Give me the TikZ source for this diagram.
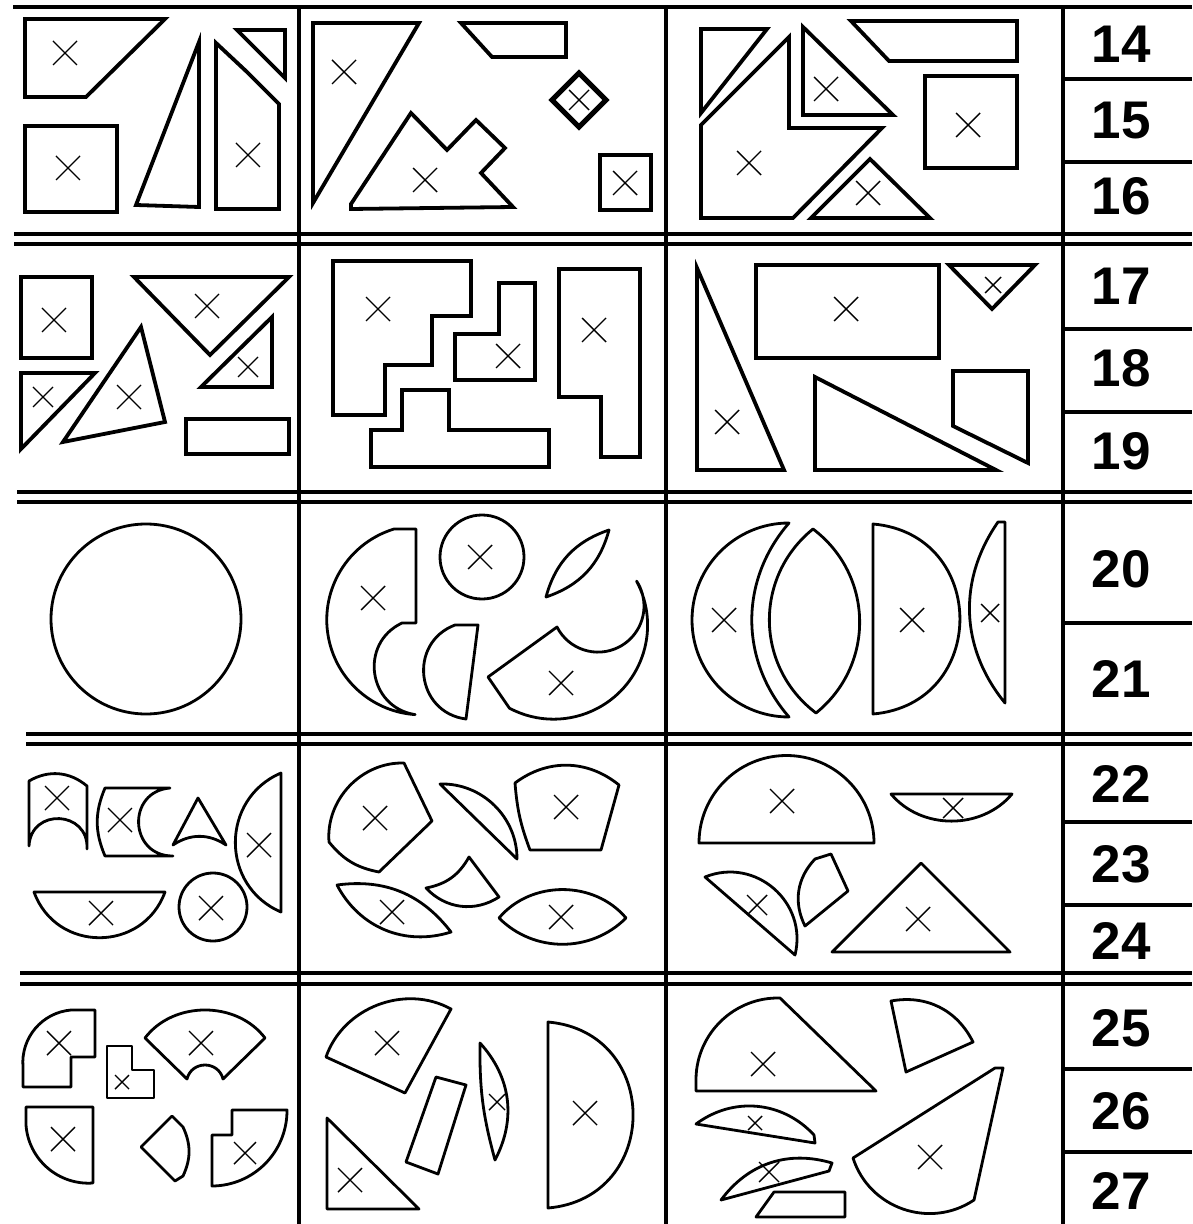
\documentclass[tikz,border=0pt]{standalone}
\usepackage{fontspec}
\setmainfont{Liberation Sans}
\tikzset{
  frame/.style={line width=2.2pt},
  piece/.style={line width=1.9pt, line join=miter},
  rpiece/.style={line width=1.4pt, line join=round},
  xline/.style={line width=0.7pt},
  numlabel/.style={font=\fontsize{26.5}{26.5}\selectfont\bfseries, inner sep=0pt},
  pics/xm/.style={code={\draw[xline] (-#1,-#1) -- (#1,#1) (-#1,#1) -- (#1,-#1);}}
}

\begin{document}
\begin{tikzpicture}[x=0.5pt, y=-0.5pt]
  \useasboundingbox (0,0) rectangle (1192,1224);

  % table lines
  \draw[frame] (13,7) -- (1192,7);
  \foreach \y/\xa in {234/14, 244/14, 492/17, 502/17, 734/26, 744/26, 973/20, 984/20}
    \draw[frame] (\xa,\y) -- (1192,\y);
  \foreach \x in {299,666,1063}
    \draw[frame] (\x,7) -- (\x,1224);
  \foreach \y in {79,162,329,412,623,822,905,1069,1152}
    \draw[frame] (1063,\y) -- (1192,\y);

  % task numbers
  \foreach \n/\y in {14/44, 15/121, 16/196, 17/286, 18/368, 19/451, 20/569, 21/679,
                     22/784, 23/864, 24/941, 25/1028, 26/1111, 27/1191}
    \node[numlabel] (n\n) at (1121,\y) {\n};

  % row 1
  \draw[piece] (25,19) -- (165,19) -- (86,97) -- (25,97) -- cycle;
  \draw[piece] (25,126) rectangle (117,212);
  \draw[piece] (136,205) -- (199,42) -- (199,207) -- cycle;
  \draw[piece] (216,43) -- (247,72) -- (279,104) -- (279,209) -- (216,209) -- cycle;
  \draw[piece] (237,30) -- (285,30) -- (285,78) -- cycle;

  \draw[piece] (313,23) -- (419,23) -- (313,203) -- cycle;
  \draw[piece] (461,23) -- (566,23) -- (566,57) -- (492,57) -- cycle;
  \draw[piece] (351,209) -- (351,204) -- (411,113) -- (447,150) -- (476,120) -- (505,148)
    -- (481,173) -- (513,207) -- cycle;
  \draw[piece, line width=2.5pt] (579,73) -- (606,100) -- (579,127) -- (552,100) -- cycle;
  \draw[piece] (600,155) rectangle (651,210);

  \draw[piece] (701,29) -- (767,29) -- (701,113) -- cycle;
  \draw[piece] (701,218) -- (701,125) -- (789,37) -- (789,128) -- (882,128) -- (793,218) -- cycle;
  \draw[piece] (803,27) -- (893,115) -- (803,115) -- cycle;
  \draw[piece] (851,21) -- (1017,21) -- (1017,61) -- (889,61) -- cycle;
  \draw[piece] (925,76) rectangle (1017,168);
  \draw[piece] (811,218) -- (870,159) -- (930,218) -- cycle;

  % row 2
  \draw[piece] (21,277) rectangle (92,358);
  \draw[piece] (134,277) -- (289,277) -- (210,355) -- cycle;
  \draw[piece] (201,387) -- (272,317) -- (272,387) -- cycle;
  \draw[piece] (21,373) -- (95,373) -- (21,449) -- cycle;
  \draw[piece] (141,327) -- (165,422) -- (63,442) -- cycle;
  \draw[piece] (186,419) rectangle (289,454);

  \draw[piece] (333,261) -- (471,261) -- (471,316) -- (432,316) -- (432,365) -- (385,365)
    -- (385,415) -- (333,415) -- cycle;
  \draw[piece] (455,334) -- (499,334) -- (499,283) -- (535,283) -- (535,380) -- (455,380) -- cycle;
  \draw[piece] (371,430) -- (402,430) -- (402,390) -- (449,390) -- (449,430) -- (549,430)
    -- (549,467) -- (371,467) -- cycle;
  \draw[piece] (559,269) -- (640,269) -- (640,457) -- (601,457) -- (601,397) -- (559,397) -- cycle;

  \draw[piece] (697,268) -- (784,470) -- (697,470) -- cycle;
  \draw[piece] (756,265) rectangle (939,358);
  \draw[piece] (949,265) -- (1035,265) -- (992,309) -- cycle;
  \draw[piece] (815,377) -- (996,470) -- (815,470) -- cycle;
  \draw[piece] (953,371) -- (1028,371) -- (1028,463) -- (953,426) -- cycle;

  % row 3
  \draw[rpiece] (146,619) circle[radius=95];

  \draw[rpiece] (394,529) arc[start angle=-107, end angle=-266, radius=95]
    to[bend left=73, looseness=1.32] (402,623) -- (416,623) -- (416,529) -- cycle;
  \draw[rpiece] (482,557) circle[radius=42];
  \draw[rpiece] (546,597) to[bend left=28] (609,530) to[bend left=28] (546,597) -- cycle;
  \draw[rpiece] (455,625) -- (478,625) -- (466,719) to[bend left=76, looseness=1.37] (455,625) -- cycle;
  \draw[rpiece] (488,677) -- (557,627) arc[start angle=153, end angle=-33, radius=46]
    arc[start angle=-28, end angle=118, radius=94] -- cycle;

  \draw[rpiece] (789,523) arc[start angle=-90, end angle=-270, radius=97]
    to[bend left=41] (789,523) -- cycle;
  \draw[rpiece] (813,529) to[bend left=52, looseness=1.06] (816,713)
    to[bend left=52, looseness=1.06] (813,529) -- cycle;
  \draw[rpiece] (873,524) to[bend left=85, looseness=1.57] (873,714) -- cycle;
  \draw[rpiece] (998,522) -- (1005,522) -- (1005,703) to[bend left=37] (998,522) -- cycle;

  % row 4
  \draw[rpiece] (29,846) -- (29,781) to[bend left=35] (87,786) -- (87,849)
    to[bend right=90, looseness=1.7] (29,846) -- cycle;
  \draw[rpiece] (105,788) -- (170,788) to[bend right=88, looseness=1.65] (173,856) -- (105,856)
    to[bend left=23] (105,788) -- cycle;
  \draw[rpiece] (198,798) -- (226,845) to[bend right=34] (173,845) -- cycle;
  \draw[rpiece] (281,773) -- (281,912) to[bend left=67, looseness=1.22] (281,773) -- cycle;
  \draw[rpiece] (34,892) -- (165,892) to[bend left=70, looseness=1.27] (34,892) -- cycle;
  \draw[rpiece] (213,907) circle[radius=34];

  \draw[rpiece] (404,763) to[bend right=48] (329,842) to[bend right=20] (379,872) -- (432,821) -- cycle;
  \draw[rpiece] (440,784) to[bend left=46] (517,859) -- cycle;
  \draw[rpiece] (515,783) to[bend left=38] (619,785) -- (601,850) -- (530,850)
    to[bend left=8] (515,783) -- cycle;
  \draw[rpiece] (469,857) -- (499,897) to[bend left=40] (426,888) to[bend right=25] (469,857) -- cycle;
  \draw[rpiece] (337,885) to[bend left=30] (451,932) to[bend left=40] (337,885) -- cycle;
  \draw[rpiece] (499,918) to[bend left=50] (626,918) to[bend left=45] (499,918) -- cycle;

  \draw[rpiece] (699,843) -- (874,843) arc[start angle=0, end angle=-180, radius=87.5] -- cycle;
  \draw[rpiece] (891,794) -- (1012,794) to[bend left=50] (891,794) -- cycle;
  \draw[rpiece] (705,877) to[bend left=63, looseness=1.17] (795,955) -- cycle;
  \draw[rpiece] (805,926) to[bend left=35] (815,859) -- (831,854) -- (848,891) -- cycle;
  \draw[rpiece] (832,952) -- (921,863) -- (1010,952) -- cycle;

  % row 5
  \draw[rpiece] (23,1067) to[bend left=45] (71,1010) -- (95,1010) -- (95,1057) -- (71,1057)
    -- (71,1087) -- (23,1087) -- cycle;
  \draw[rpiece] (107,1046) -- (132,1046) -- (132,1070) -- (154,1070) -- (154,1098) -- (107,1098) -- cycle;
  \draw[rpiece] (145,1038) to[bend left=53] (265,1038) -- (223,1079)
    to[bend right=76, looseness=1.37] (187,1079) -- cycle;
  \draw[rpiece] (26,1107) -- (93,1107) -- (93,1183) to[bend left=45] (26,1125) -- cycle;
  \draw[rpiece] (141,1147) -- (172,1116) -- (183,1127) to[bend left=25] (183,1176) -- (175,1181) -- cycle;
  \draw[rpiece] (232,1110) -- (287,1110) to[bend left=45] (212,1186) -- (212,1135) -- (232,1135) -- cycle;

  \draw[rpiece] (326,1057) to[bend left=50] (451,1009) -- (405,1093) -- cycle;
  \draw[rpiece] (436,1077) -- (466,1085) -- (438,1174) -- (406,1162) -- cycle;
  \draw[rpiece] (480,1043) to[bend left=35] (495,1160) to[bend left=8] (480,1043) -- cycle;
  \draw[rpiece] (548,1022) to[bend left=85, looseness=1.57] (548,1208) -- cycle;
  \draw[rpiece] (327,1118) -- (419,1209) -- (327,1209) -- cycle;

  \draw[rpiece] (696,1091) -- (876,1091) -- (780,998) to[bend right=45] (696,1078) -- cycle;
  \draw[rpiece] (891,1001) to[bend left=37] (973,1042) -- (906,1072) -- cycle;
  \draw[rpiece] (696,1124) to[bend left=42] (814,1135) -- (815,1143) -- cycle;
  \draw[rpiece] (721,1200) to[bend left=35] (832,1163) -- (829,1171) -- cycle;
  \draw[rpiece] (774,1192) -- (845,1192) -- (845,1217) -- (756,1217) -- cycle;
  \draw[rpiece] (853,1158) to[bend right=53, looseness=1.06] (974,1200) -- (1003,1068) -- (995,1068) -- cycle;

  % crosses
  \foreach \x/\y/\s in {65/53/12, 68/168/12, 248/155/12, 344/72/12, 425/180/12, 579/100/10,
      625/183/12, 749/163/12, 826/89/12, 968/125/12, 868/193/12,
      54/320/12, 207/306/12, 248/367/10, 43/397/10, 129/397/12, 378/309/12, 508/356/12,
      594/330/12, 727/422/12, 846/309/12, 993/285/8,
      373/598/12, 480/557/12, 561/683/12, 724/620/12, 912/620/12, 990/613/9,
      57/798/12, 120/820/12, 259/845/12, 101/913/12, 211/908/12, 375/818/12, 566/807/12,
      392/912/12, 561/917/12, 782/801/12, 953/808/10, 757/905/10, 918/919/12,
      59/1043/12, 122/1082/7, 201/1043/12, 63/1139/12, 245/1153/11, 387/1043/12,
      350/1180/12, 497/1102/8, 585/1113/12, 763/1064/12, 755/1123/7, 769/1172/10, 930/1157/12}
    \pic at (\x,\y) {xm=\s};
\end{tikzpicture}
\end{document}
